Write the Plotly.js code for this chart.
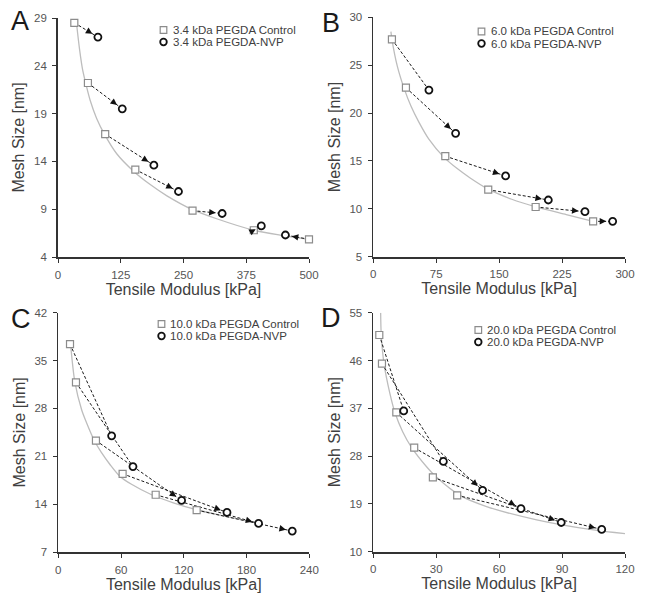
<!DOCTYPE html>
<html><head><meta charset="utf-8">
<script src="https://cdn.plot.ly/plotly-3.0.1.min.js"></script>
<style>html,body{margin:0;padding:0;background:#fff;} #chart{width:645px;height:601px;}</style>
</head><body><div id="chart"></div>
<script>
// ---------- Panel A: 3.4 kDa PEGDA ----------
const aControlX = [32.5, 59.6, 94, 154, 268, 390, 500];
const aControlY = [28.5, 22.2, 16.85, 13.15, 8.85, 6.8, 5.85];
const aNvpX = [79.5, 128, 191, 240, 327, 405, 453];
const aNvpY = [27.0, 19.5, 13.6, 10.85, 8.55, 7.25, 6.3];
const aFitX = [37, 43, 49, 56, 64, 77, 93, 117, 150, 183, 217, 268, 316, 390, 448, 500];
const aFitY = [28.4, 25.7, 23.6, 22.0, 20.4, 18.5, 16.8, 14.8, 13.0, 11.6, 10.4, 8.95, 8.0, 6.8, 6.25, 5.85];
const aTicksX = [0, 125, 250, 375, 500];
const aTicksY = [4, 9, 14, 19, 24, 29];

// ---------- Panel B: 6.0 kDa PEGDA ----------
const bControlX = [22.2, 38.9, 85.8, 137, 193.5, 262];
const bControlY = [27.7, 22.65, 15.5, 12.0, 10.19, 8.69];
const bNvpX = [66.3, 98.1, 157.7, 208.6, 252.3, 285.3];
const bNvpY = [22.4, 17.88, 13.43, 10.92, 9.7, 8.69];
const bFitX = [21, 22.2, 28.6, 36.6, 45, 54, 66, 84, 100, 115, 137, 165, 194, 230, 262];
const bFitY = [28.5, 27.7, 24.9, 22.6, 20.7, 19.1, 17.3, 15.4, 14.2, 13.25, 12.05, 11.0, 10.2, 9.4, 8.7];
const bTicksX = [0, 75, 150, 225, 300];
const bTicksY = [5, 10, 15, 20, 25, 30];

// ---------- Panel C: 10.0 kDa PEGDA ----------
const cControlX = [11.2, 16.9, 36.0, 61.5, 93.1, 132.3];
const cControlY = [37.4, 31.8, 23.3, 18.44, 15.37, 13.13];
const cNvpX = [51.0, 71.4, 117.9, 161.3, 191.5, 223.7];
const cNvpY = [23.99, 19.5, 14.54, 12.79, 11.18, 10.06];
const cFitX = [11.8, 15.9, 22.3, 27, 34.4, 41, 49.4, 59, 70, 89.2, 110, 132.3, 160, 186.5];
const cFitY = [37.3, 31.8, 27.8, 25.9, 23.3, 21.6, 19.8, 18.05, 16.9, 15.37, 14.2, 13.18, 12.2, 11.33];
const cTicksX = [0, 60, 120, 180, 240];
const cTicksY = [7, 14, 21, 28, 35, 42];

// ---------- Panel D: 20.0 kDa PEGDA ----------
const dControlX = [2.86, 4.13, 10.97, 19.5, 28.4, 40.0];
const dControlY = [50.8, 45.4, 36.23, 29.58, 24.0, 20.6];
const dNvpX = [14.5, 33.4, 52.1, 70.4, 89.6, 108.9];
const dNvpY = [36.5, 27.0, 21.54, 18.1, 15.5, 14.2];
const dFitX = [3.5, 3.8, 5.1, 7.9, 10.3, 14, 18.3, 25.4, 30.2, 41.3, 54, 77.9, 104.9, 120];
const dFitY = [55, 50.8, 45.4, 39.8, 36.2, 32.6, 29.6, 26.0, 24.0, 20.6, 18.5, 16.0, 14.1, 13.4];
const dTicksX = [0, 30, 60, 90, 120];
const dTicksY = [10, 19, 28, 37, 46, 55];

const W = 645, H = 601;
const FONT = 'Liberation Sans, Arial, Helvetica, sans-serif';
const px2x = p => p / W;
const py2y = p => 1 - p / H;

const panels = [
  {letter:'A', name:'3.4 kDa', cx:aControlX, cy:aControlY, nx:aNvpX, ny:aNvpY, fx:aFitX, fy:aFitY, tx:aTicksX, ty:aTicksY,
   xPx:[58,309], yPx:[18,257], letterPx:[19.5,19.5], symX:163.5, rowY:[30,42], textX:172.5},
  {letter:'B', name:'6.0 kDa', cx:bControlX, cy:bControlY, nx:bNvpX, ny:bNvpY, fx:bFitX, fy:bFitY, tx:bTicksX, ty:bTicksY,
   xPx:[373.3,625], yPx:[17.3,256.7], letterPx:[330.8,20.8], symX:481.5, rowY:[31.5,43.5], textX:490.5},
  {letter:'C', name:'10.0 kDa', cx:cControlX, cy:cControlY, nx:cNvpX, ny:cNvpY, fx:cFitX, fy:cFitY, tx:cTicksX, ty:cTicksY,
   xPx:[58.3,309.3], yPx:[312.7,552], letterPx:[21,317], symX:161.5, rowY:[324,336], textX:170},
  {letter:'D', name:'20.0 kDa', cx:dControlX, cy:dControlY, nx:dNvpX, ny:dNvpY, fx:dFitX, fy:dFitY, tx:dTicksX, ty:dTicksY,
   xPx:[373.3,625], yPx:[312.7,551.7], letterPx:[331.3,316.3], symX:478.3, rowY:[330,342], textX:487}
];

const traces = [];
const layout = {
  width: W, height: H,
  margin: {l:0, r:0, t:0, b:0},
  paper_bgcolor: '#ffffff', plot_bgcolor: '#ffffff',
  showlegend: false,
  font: {family: FONT, color: '#404040'},
  annotations: [], shapes: []
};

panels.forEach((p, i) => {
  const k = i === 0 ? '' : String(i + 1);
  const xa = 'x' + k, ya = 'y' + k;
  const xr = [p.tx[0], p.tx[p.tx.length - 1]];
  const yr = [p.ty[0], p.ty[p.ty.length - 1]];

  // fit curve
  traces.push({x: p.fx, y: p.fy, xaxis: xa, yaxis: ya, type: 'scatter', mode: 'lines',
    line: {color: '#bdbdbd', width: 1.3, shape: 'spline', smoothing: 0.8}, cliponaxis: false, hoverinfo: 'skip'});

  // dashed connectors control -> NVP
  const lx = [], ly = [];
  p.cx.forEach((v, j) => { lx.push(v, p.nx[j], null); ly.push(p.cy[j], p.ny[j], null); });
  traces.push({x: lx, y: ly, xaxis: xa, yaxis: ya, type: 'scatter', mode: 'lines', connectgaps: false,
    line: {color: '#1a1a1a', width: 1, dash: '3px,2px'}, cliponaxis: false, hoverinfo: 'skip'});

  // control squares
  traces.push({x: p.cx, y: p.cy, xaxis: xa, yaxis: ya, type: 'scatter', mode: 'markers',
    name: p.name + ' PEGDA Control',
    marker: {symbol: 'square', size: 7, color: '#ffffff', line: {color: '#8c8c8c', width: 1.2}}, cliponaxis: false});

  // NVP circles
  traces.push({x: p.nx, y: p.ny, xaxis: xa, yaxis: ya, type: 'scatter', mode: 'markers',
    name: p.name + ' PEGDA-NVP',
    marker: {symbol: 'circle', size: 7, color: '#ffffff', line: {color: '#111111', width: 1.8}}, cliponaxis: false});

  // axes
  const xdom = [px2x(p.xPx[0]), px2x(p.xPx[1])];
  const ydom = [py2y(p.yPx[1]), py2y(p.yPx[0])];
  const common = {showline: true, linecolor: '#333333', linewidth: 1.8, ticks: 'outside', ticklen: 4,
    tickcolor: '#333333', tickwidth: 1, showgrid: false, zeroline: false, fixedrange: true,
    tickfont: {family: FONT, size: 11.5, color: '#555555'}};
  layout['xaxis' + k] = Object.assign({}, common, {domain: xdom, range: xr, tickvals: p.tx, anchor: ya,
    ticklabelstandoff: 2,
    title: {text: 'Tensile Modulus [kPa]', font: {family: FONT, size: 16, color: '#404040'}, standoff: 3}});
  layout['yaxis' + k] = Object.assign({}, common, {domain: ydom, range: yr, tickvals: p.ty, anchor: xa,
    ticklabelstandoff: 3,
    title: {text: 'Mesh Size [nm]', font: {family: FONT, size: 16, color: '#404040'}, standoff: 5}});

  // arrowheads
  const sx = (p.xPx[1] - p.xPx[0]) / (xr[1] - xr[0]);
  const sy = (p.yPx[1] - p.yPx[0]) / (yr[1] - yr[0]);
  p.cx.forEach((v, j) => {
    const dxp = (p.nx[j] - v) * sx;
    const dyp = -(p.ny[j] - p.cy[j]) * sy;
    const len = Math.hypot(dxp, dyp);
    const L = 13;
    layout.annotations.push({x: p.nx[j], y: p.ny[j], xref: xa, yref: ya, text: ' ', showarrow: true,
      ax: -dxp / len * L, ay: -dyp / len * L, standoff: 6.5, arrowhead: 2, arrowsize: 1.3,
      arrowwidth: 1, arrowcolor: '#111111'});
  });

  // panel letter
  layout.annotations.push({text: p.letter, xref: 'paper', yref: 'paper', x: px2x(p.letterPx[0]), y: py2y(p.letterPx[1] + 2),
    xanchor: 'center', yanchor: 'middle', showarrow: false, font: {family: FONT, size: 27, color: '#1a1a1a'}});

  // legend (text + symbols)
  const labels = [p.name + ' PEGDA Control', p.name + ' PEGDA-NVP'];
  labels.forEach((t, r) => {
    layout.annotations.push({text: t, xref: 'paper', yref: 'paper', x: px2x(p.textX - 1), y: py2y(p.rowY[r]),
      xanchor: 'left', yanchor: 'middle', showarrow: false, borderpad: 0,
      font: {family: FONT, size: 11.5, color: '#404040'}});
  });
  const s = 3.3;
  layout.shapes.push({type: 'rect', xref: 'paper', yref: 'paper',
    x0: px2x(p.symX - s), x1: px2x(p.symX + s), y0: py2y(p.rowY[0] + s), y1: py2y(p.rowY[0] - s),
    line: {color: '#8c8c8c', width: 1.2}, fillcolor: '#ffffff'});
  layout.shapes.push({type: 'circle', xref: 'paper', yref: 'paper',
    x0: px2x(p.symX - s), x1: px2x(p.symX + s), y0: py2y(p.rowY[1] + s), y1: py2y(p.rowY[1] - s),
    line: {color: '#111111', width: 1.8}, fillcolor: '#ffffff'});
});

Plotly.newPlot('chart', traces, layout, {displayModeBar: false, staticPlot: true});
</script>
</body></html>
